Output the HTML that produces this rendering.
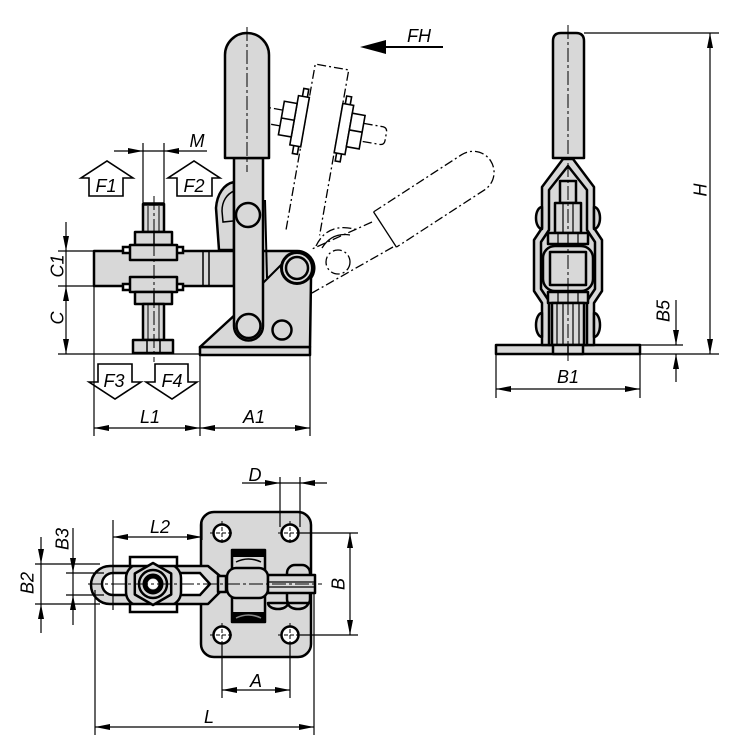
<!DOCTYPE html>
<html><head><meta charset="utf-8"><style>
html,body{margin:0;padding:0;background:#fff;}
svg{display:block;}
text{font-family:"Liberation Sans",sans-serif;font-style:italic;font-size:18px;fill:#000;}
.g{fill:#d8d8d8;stroke:#000;stroke-width:2.5;stroke-linejoin:round;}
.w{fill:#fff;stroke:#000;stroke-width:2.5;}
.t{fill:none;stroke:#000;stroke-width:1.2;}
.cl{fill:none;stroke:#000;stroke-width:1;stroke-dasharray:14,3,3,3;}
.ph{fill:none;stroke:#000;stroke-width:1.3;stroke-dasharray:9,3,2,3;}
.pw{fill:#fff;stroke:#000;stroke-width:1.6;}
</style></head><body>
<svg width="733" height="750" viewBox="0 0 733 750" xmlns="http://www.w3.org/2000/svg">
<defs>
<marker id="a" viewBox="0 0 15 6" refX="15" refY="3" markerWidth="15" markerHeight="6" markerUnits="userSpaceOnUse" orient="auto-start-reverse"><path d="M0,0 L15,3 L0,6 z" fill="#000"/></marker>
</defs>

<!-- ================= FRONT VIEW ================= -->
<!-- upper phantom -->
<g transform="translate(332,67) rotate(10)">
  <path class="ph" d="M-17,168 L-17,0 L17,0 L17,168"/>
  <path class="ph" d="M-41,51 L-72,51 M-41,67 L-72,67"/>
  <path class="ph" d="M41,50 L60,50 Q65,50 65,55 L65,63 Q65,68 60,68 L41,68"/>
  <rect class="pw" x="-24" y="26" width="5" height="9"/>
  <rect class="pw" x="-24" y="83" width="5" height="9"/>
  <rect class="pw" x="-28" y="34" width="11" height="50"/>
  <rect class="pw" x="-41" y="42" width="13" height="34"/>
  <line x1="-41" y1="59" x2="-28" y2="59" stroke="#000" stroke-width="1.6"/>
  <rect class="pw" x="19.5" y="26" width="5" height="9"/>
  <rect class="pw" x="19.5" y="83" width="5" height="9"/>
  <rect class="pw" x="17" y="34" width="11" height="50"/>
  <rect class="pw" x="28" y="42" width="13" height="34"/>
  <line x1="28" y1="59" x2="41" y2="59" stroke="#000" stroke-width="1.6"/>
</g>
<!-- lower phantom -->
<g transform="translate(385,229.5) rotate(-33)">
  <path class="ph" d="M0,-21 L105,-21 A21,21 0 0 1 105,21 L0,21"/>
  <line x1="0" y1="-21" x2="0" y2="21" stroke="#000" stroke-width="1.3"/>
</g>
<path class="ph" d="M372,222 L312,249 M393,247 L312,293"/>
<path class="ph" d="M316,246 Q328,221 358,230"/>
<path d="M322,248 Q332,232 350,235" fill="none" stroke="#000" stroke-width="1.3"/>
<circle class="ph" cx="338" cy="262" r="12"/>

<!-- base / body -->
<rect class="g" x="200" y="347" width="110" height="8" stroke-width="2"/>
<path class="g" d="M200,347 L237,313 L237,251 L297,251 A17,17 0 0 1 311,278 L310,347 Z"/>
<line x1="262" y1="284" x2="289" y2="257" stroke="#000" stroke-width="2"/>
<circle class="g" cx="282" cy="330" r="9.5"/>
<circle cx="297" cy="268" r="15.5" fill="#d8d8d8" stroke="#000" stroke-width="3"/>
<circle class="g" cx="297" cy="268" r="11"/>

<!-- clamp arm -->
<rect class="g" x="94" y="251" width="140" height="35" stroke-width="2"/>
<line x1="203" y1="251" x2="203" y2="286" stroke="#000" stroke-width="1.5"/>
<line x1="209" y1="251" x2="209" y2="286" stroke="#000" stroke-width="1.5"/>

<!-- spindle -->
<rect class="g" x="143" y="204" width="21" height="28" stroke-width="2"/>
<line x1="143" y1="204" x2="164" y2="204" stroke="#000" stroke-width="3.5"/>
<line x1="148" y1="206" x2="148" y2="232" stroke="#000" stroke-width="1"/>
<line x1="159" y1="206" x2="159" y2="232" stroke="#000" stroke-width="1"/>
<rect class="g" x="135" y="232" width="37" height="13"/>
<line x1="154" y1="232" x2="154" y2="245" stroke="#000" stroke-width="1.5"/>
<rect class="w" x="123" y="247" width="60" height="6" stroke-width="2"/>
<rect class="g" x="130" y="245" width="47" height="15"/>
<rect class="w" x="123" y="284" width="60" height="6" stroke-width="2"/>
<rect class="g" x="130" y="277" width="47" height="15"/>
<rect class="g" x="135" y="292" width="37" height="12"/>
<line x1="154" y1="292" x2="154" y2="304" stroke="#000" stroke-width="1.5"/>
<rect class="g" x="143" y="304" width="21" height="36" stroke-width="2"/>
<line x1="148" y1="304" x2="148" y2="340" stroke="#000" stroke-width="1"/>
<line x1="159" y1="304" x2="159" y2="340" stroke="#000" stroke-width="1"/>
<rect class="g" x="133" y="340" width="40" height="13" stroke-width="2"/>
<line x1="147" y1="340" x2="147" y2="353" stroke="#000" stroke-width="1.5"/>
<line x1="160" y1="340" x2="160" y2="353" stroke="#000" stroke-width="1.5"/>
<line class="cl" x1="154" y1="196" x2="154" y2="362"/>

<!-- curved bracket behind lever -->
<path class="g" d="M234,182 C224,184 217,194 216,208 L219,250 L234,250 Z"/>
<path d="M234,191 C227,194 222,201 222,211 L223,222 L233,221" fill="none" stroke="#000" stroke-width="1.5"/>
<line x1="265" y1="200" x2="267" y2="278" stroke="#000" stroke-width="2"/>
<!-- lever -->
<path class="g" d="M234,158 L234,326 A14.5,14.5 0 0 0 263,326 L263,158 Z"/>
<circle class="g" cx="248" cy="215" r="12"/>
<circle class="g" cx="248.5" cy="326" r="12"/>
<!-- handle -->
<path class="g" d="M225,158 L225,55 A22,22 0 0 1 269,55 L269,158 Z"/>
<line class="cl" x1="247" y1="27" x2="247" y2="172"/>

<!-- F arrows -->
<polygon class="pw" points="89,196 89,178 81,178 107,161 133,178 123,178 123,196"/>
<polygon class="pw" points="177,196 177,178 168,178 194,161 220,178 212,178 212,196"/>
<polygon class="pw" points="98,364 98,382 89,382 115,399 141,382 132,382 132,364"/>
<polygon class="pw" points="155,364 155,382 146,382 172,399 197,382 188,382 188,364"/>
<text x="106" y="192" text-anchor="middle" font-size="17">F1</text>
<text x="194" y="192" text-anchor="middle" font-size="17">F2</text>
<text x="114" y="387" text-anchor="middle" font-size="17">F3</text>
<text x="172" y="387" text-anchor="middle" font-size="17">F4</text>

<!-- M dim -->
<path class="t" d="M143,143 L143,203 M164,143 L164,203 M143,151 L164,151"/>
<line class="t" x1="114" y1="151" x2="143" y2="151" marker-end="url(#a)"/>
<line class="t" x1="207" y1="151" x2="164" y2="151" marker-end="url(#a)"/>
<text x="197" y="147" text-anchor="middle">M</text>

<!-- FH -->
<line x1="384" y1="47" x2="443" y2="47" stroke="#000" stroke-width="2"/>
<polygon points="360,47 386,40 386,54" fill="#000"/>
<text x="419" y="42" text-anchor="middle" font-size="19">FH</text>

<!-- C / C1 -->
<path class="t" d="M58,251 L94,251 M58,286 L94,286 M58,354 L200,354"/>
<line class="t" x1="66" y1="222" x2="66" y2="251" marker-end="url(#a)"/>
<line class="t" x1="66" y1="251" x2="66" y2="286"/>
<line class="t" x1="66" y1="286" x2="66" y2="354" marker-start="url(#a)" marker-end="url(#a)"/>
<text transform="translate(63.5,266) rotate(-90)" text-anchor="middle">C1</text>
<text transform="translate(63.5,318) rotate(-90)" text-anchor="middle">C</text>

<!-- L1 / A1 -->
<path class="t" d="M94,286 L94,436 M200,355 L200,436 M310,355 L310,436"/>
<line class="t" x1="94" y1="428" x2="200" y2="428" marker-start="url(#a)" marker-end="url(#a)"/>
<line class="t" x1="200" y1="428" x2="310" y2="428" marker-start="url(#a)" marker-end="url(#a)"/>
<text x="150" y="423" text-anchor="middle">L1</text>
<text x="254" y="423" text-anchor="middle">A1</text>

<!-- ================= SIDE VIEW ================= -->
<rect class="g" x="496" y="345" width="144" height="9" stroke-width="2"/>
<path class="g" d="M563,159 L542,187 L542,228 L534,240 L534,291 L542,303 L542,345 L594,345 L594,303 L602,291 L602,240 L594,228 L594,187 L573,159 Z"/>
<path class="g" stroke-width="2" d="M568,166 L549,190 L549,230 L541,242 L541,289 L549,301 L549,345 L587,345 L587,301 L595,289 L595,242 L587,230 L587,190 Z"/>
<path class="g" d="M542,207 A6,11 0 0 0 542,229 Z"/>
<path class="g" d="M542,313 A6,12 0 0 0 542,337 Z"/>
<path class="g" d="M594,207 A6,11 0 0 1 594,229 Z"/>
<path class="g" d="M594,313 A6,12 0 0 1 594,337 Z"/>
<rect class="g" x="560" y="181" width="16" height="22" stroke-width="2"/>
<rect class="g" x="555" y="203" width="26" height="30" stroke-width="2"/>
<path class="t" d="M563,203 L563,233 M573,203 L573,233"/>
<rect class="g" x="548" y="233" width="40" height="11" stroke-width="2"/>
<path class="t" d="M558,233 L558,244 M568,233 L568,244 M578,233 L578,244"/>
<rect x="543" y="246" width="50" height="45" rx="12" fill="none" stroke="#000" stroke-width="2.5"/>
<rect class="g" x="550" y="252" width="36" height="33"/>
<rect class="g" x="548" y="292" width="40" height="11" stroke-width="2"/>
<path class="t" d="M558,292 L558,303 M568,292 L568,303 M578,292 L578,303"/>
<rect class="g" x="552" y="303" width="32" height="42" stroke-width="2"/>
<path class="t" d="M557,303 L557,345 M563,303 L563,345 M573,303 L573,345 M579,303 L579,345"/>
<rect class="g" x="553" y="345" width="30" height="9" stroke-width="2"/>
<line x1="568" y1="345" x2="568" y2="354" stroke="#000" stroke-width="1.5"/>
<path class="g" d="M553,158 L553,41 Q553,33 561,33 L576,33 Q584,33 584,41 L584,158 Z"/>
<line class="cl" x1="568" y1="25" x2="568" y2="362"/>

<!-- H -->
<path class="t" d="M584,33 L719,33 M640,354 L719,354 M640,345 L683,345"/>
<line class="t" x1="710" y1="33" x2="710" y2="354" marker-start="url(#a)" marker-end="url(#a)"/>
<text transform="translate(706.5,190) rotate(-90)" text-anchor="middle">H</text>
<!-- B5 -->
<line class="t" x1="676" y1="300" x2="676" y2="345" marker-end="url(#a)"/>
<line class="t" x1="676" y1="382" x2="676" y2="354" marker-end="url(#a)"/>
<text transform="translate(669.5,311) rotate(-90)" text-anchor="middle">B5</text>
<!-- B1 -->
<path class="t" d="M496,354 L496,398 M640,354 L640,398"/>
<line class="t" x1="496" y1="389" x2="640" y2="389" marker-start="url(#a)" marker-end="url(#a)"/>
<text x="568" y="383" text-anchor="middle">B1</text>

<!-- ================= BOTTOM VIEW ================= -->
<rect class="g" x="201" y="512" width="110" height="145" rx="13"/>
<g>
  <circle class="w" cx="222" cy="533" r="8.5" stroke-width="3"/>
  <circle class="w" cx="290" cy="533" r="8.5" stroke-width="3"/>
  <circle class="w" cx="222" cy="635" r="8.5" stroke-width="3"/>
  <circle class="w" cx="290" cy="635" r="8.5" stroke-width="3"/>
  <path d="M210,533 L234,533 M222,521 L222,545 M278,533 L302,533 M290,521 L290,545 M210,635 L234,635 M222,623 L222,647 M278,635 L302,635 M290,623 L290,647" stroke="#000" stroke-width="1" stroke-dasharray="4,2"/>
</g>
<!-- arm -->
<path class="g" d="M208,566 L110,566 A19,19 0 0 0 110,604 L208,604 L220,592 L220,576 Z"/>
<path class="w" stroke-width="2" d="M132,573 L113,573 A11,11 0 0 0 113,595 L200,595 L210,584 L200,573 Z"/>
<!-- block -->
<rect class="g" x="126" y="564" width="55" height="42" rx="14"/>
<rect class="w" x="130" y="557" width="47" height="9"/>
<rect class="w" x="130" y="604" width="47" height="8"/>
<polygon class="g" points="153,563 171.2,573.5 171.2,594.5 153,605 134.8,594.5 134.8,573.5"/>
<circle class="g" cx="153" cy="584" r="14" stroke-width="1.5"/>
<circle cx="153" cy="584" r="8" fill="none" stroke="#000" stroke-width="5"/>
<circle cx="153" cy="584" r="5" fill="#fff"/>
<!-- right parts -->
<rect class="g" x="287" y="565" width="23" height="42" rx="8" stroke-width="2"/>
<path class="g" stroke-width="2" d="M268,603 A10,6 0 0 0 288,603 Z"/>
<path class="g" stroke-width="2" d="M288,603 A10,6 0 0 0 308,603 Z"/>
<rect class="g" x="232" y="550" width="33" height="72"/>
<rect x="232" y="549" width="33" height="8" fill="#000"/>
<rect x="232" y="612" width="33" height="10" fill="#000"/>
<path d="M236,562 Q248.5,556 261,562" fill="none" stroke="#000" stroke-width="1.5"/>
<path d="M236,618 Q248.5,612 261,618" fill="none" stroke="#888" stroke-width="1.5"/>
<rect class="g" x="227" y="568" width="41" height="30" rx="9"/>
<rect class="g" x="218" y="576" width="8" height="16" stroke-width="2"/>
<rect class="g" x="268" y="575" width="47" height="18"/>
<path class="t" d="M268,582 L315,582 M268,587 L315,587"/>
<line class="cl" x1="88" y1="584" x2="322" y2="584"/>

<!-- D -->
<path class="t" d="M280,477 L280,527 M300,477 L300,527 M280,483 L300,483"/>
<line class="t" x1="242" y1="483" x2="280" y2="483" marker-end="url(#a)"/>
<line class="t" x1="327" y1="483" x2="300" y2="483" marker-end="url(#a)"/>
<text x="255" y="481" text-anchor="middle">D</text>
<!-- B -->
<path class="t" d="M300,533 L358,533 M300,635 L358,635"/>
<line class="t" x1="350" y1="533" x2="350" y2="635" marker-start="url(#a)" marker-end="url(#a)"/>
<text transform="translate(344.5,584) rotate(-90)" text-anchor="middle">B</text>
<!-- A -->
<path class="t" d="M222,645 L222,698 M290,645 L290,698"/>
<line class="t" x1="222" y1="690" x2="290" y2="690" marker-start="url(#a)" marker-end="url(#a)"/>
<text x="256" y="687" text-anchor="middle">A</text>
<!-- L -->
<path class="t" d="M95,590 L95,735 M314,594 L314,735"/>
<line class="t" x1="95" y1="727" x2="314" y2="727" marker-start="url(#a)" marker-end="url(#a)"/>
<text x="209" y="723" text-anchor="middle">L</text>
<!-- L2 -->
<path class="t" d="M113,520 L113,610 M202,520 L202,540"/>
<line class="t" x1="113" y1="537" x2="202" y2="537" marker-start="url(#a)" marker-end="url(#a)"/>
<text x="160" y="533" text-anchor="middle">L2</text>
<!-- B2 / B3 -->
<path class="t" d="M35,564 L100,564 M35,604 L100,604 M66,573 L104,573 M66,595 L104,595"/>
<line class="t" x1="41" y1="537" x2="41" y2="564" marker-end="url(#a)"/>
<line class="t" x1="41" y1="564" x2="41" y2="604"/>
<line class="t" x1="41" y1="633" x2="41" y2="604" marker-end="url(#a)"/>
<line class="t" x1="73" y1="528" x2="73" y2="573" marker-end="url(#a)"/>
<line class="t" x1="73" y1="573" x2="73" y2="595"/>
<line class="t" x1="73" y1="625" x2="73" y2="595" marker-end="url(#a)"/>
<text transform="translate(33.5,583) rotate(-90)" text-anchor="middle">B2</text>
<text transform="translate(68.5,539) rotate(-90)" text-anchor="middle">B3</text>
</svg>
</body></html>
